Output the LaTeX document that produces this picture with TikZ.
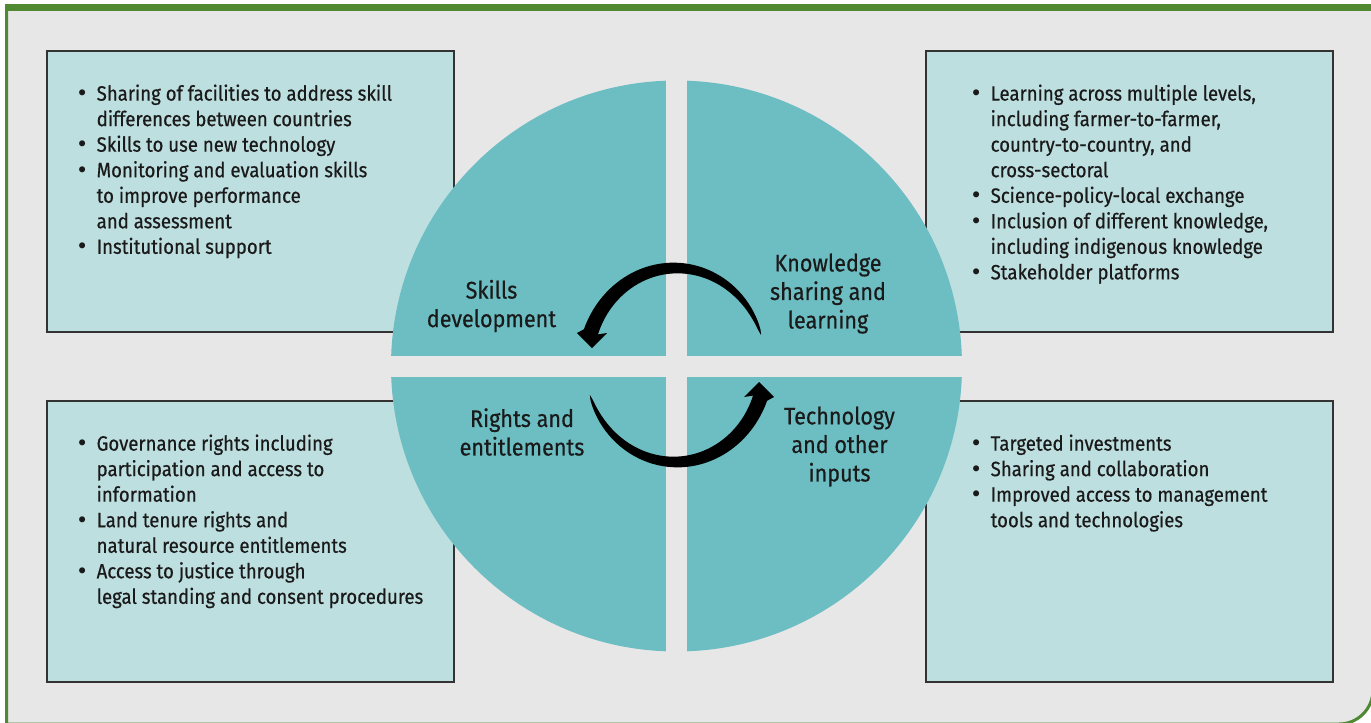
\documentclass[tikz,border=0pt]{standalone}
\usepackage{fontspec}
\setmainfont{Fira Sans}[FakeStretch=0.9, FakeBold=0.5]
\newfontfamily\bulletfont{DejaVu Sans}
\definecolor{framegreen}{HTML}{4F8A33}
\definecolor{bggray}{HTML}{E7E7E7}
\definecolor{boxfill}{HTML}{BEDFE0}
\definecolor{boxline}{HTML}{333333}
\definecolor{circfill}{HTML}{6DBEC3}
\definecolor{inktext}{HTML}{1A1A1A}

\tikzset{every picture/.style={line width=0.75pt}}
\tikzset{
  infobox/.style={fill=boxfill, draw=boxline, line width=1.1pt},
  listtext/.style={anchor=north west, inner sep=0pt, align=left, text=inktext, font=\fontsize{15.5}{19.15}\selectfont},
  quadlabel/.style={inner sep=0pt, align=center, text=inktext, font=\fontsize{18}{21.4}\selectfont}
}
\newcommand{\bl}{\makebox[15.5pt][l]{\bulletfont\textbullet}}
\newcommand{\ind}{\hspace*{15.5pt}}

\begin{document}
\begin{tikzpicture}[x=0.75pt,y=0.75pt,yscale=-1,xscale=1]
\useasboundingbox (0,0) rectangle (1371,722);
\clip (0,0) rectangle (1371,722);
\fill[white] (0,0) rectangle (1371,722);

%Frame
\draw[framegreen, fill=bggray, line width=2.25pt] (6.5,726) -- (6.5,7.5) -- (1373,7.5) -- (1373,690) arc[start angle=0, end angle=90, radius=34] -- (6.5,724) -- cycle;
\fill[framegreen] (5,4) rectangle (1371,11);

%Boxes
\draw[infobox] (47,51) rectangle (454,332);
\draw[infobox] (926,51) rectangle (1333,332);
\draw[infobox] (47,401) rectangle (454,682);
\draw[infobox] (926,401) rectangle (1333,682);

%Circle with gaps
\fill[circfill] (676.5,366) circle[radius=285.5];
\begin{scope}
  \clip (676.5,366) circle[radius=286.5];
  \fill[bggray] (666,0) rectangle (687,722);
  \fill[bggray] (0,356) rectangle (1371,377);
\end{scope}

%Curved arrows
\foreach \rot in {0,180}{
  \begin{scope}[shift={(675.5,365)}, rotate=\rot, yscale=-1]
    \fill[black] plot[domain=18:160, samples=50, variable=\t] ({(90+7.5*sqrt(abs((\t-18)/142)))*cos(\t)}, {(97+7.5*sqrt(abs((\t-18)/142)))*sin(\t)})
      -- (-98.5,32) -- (-83.5,17) -- (-68.5,32)
      -- plot[domain=160:18, samples=50, variable=\t] ({(90-7.5*sqrt(abs((\t-18)/142)))*cos(\t)}, {(97-7.5*sqrt(abs((\t-18)/142)))*sin(\t)}) -- cycle;
  \end{scope}
}

% Text Node
\node[quadlabel] (skills) at (491.5,306) {Skills\\development};
% Text Node
\node[quadlabel] (knowledge) at (828,293.5) {Knowledge\\sharing and\\learning};
% Text Node
\node[quadlabel] (rights) at (522,432) {Rights and\\entitlements};
% Text Node
\node[quadlabel] (technology) at (839.5,446.5) {Technology\\and other\\inputs};

% Text Node
\node[listtext] (skillslist) at (75.5,84) {\bl Sharing of facilities to address skill\\
\ind differences between countries\\
\bl Skills to use new technology\\
\bl Monitoring and evaluation skills\\
\ind to improve performance\\
\ind and assessment\\
\bl Institutional support};
% Text Node
\node[listtext] (knowledgelist) at (969.5,84) {\bl Learning across multiple levels,\\
\ind including farmer-to-farmer,\\
\ind country-to-country, and\\
\ind cross-sectoral\\
\bl Science-policy-local exchange\\
\bl Inclusion of different knowledge,\\
\ind including indigenous knowledge\\
\bl Stakeholder platforms};
% Text Node
\node[listtext] (rightslist) at (75.5,434) {\bl Governance rights including\\
\ind participation and access to\\
\ind information\\
\bl Land tenure rights and\\
\ind natural resource entitlements\\
\bl Access to justice through\\
\ind legal standing and consent procedures};
% Text Node
\node[listtext] (technologylist) at (969.5,434) {\bl Targeted investments\\
\bl Sharing and collaboration\\
\bl Improved access to management\\
\ind tools and technologies};
\end{tikzpicture}
\end{document}
